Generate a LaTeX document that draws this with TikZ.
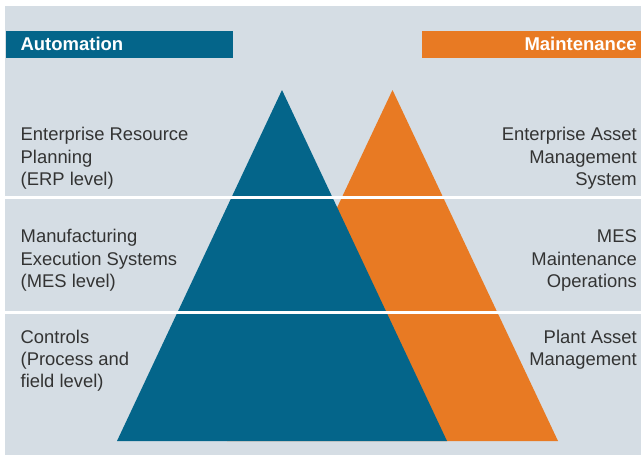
\documentclass[tikz,border=0pt]{standalone}
\usepackage{fontspec}
\setmainfont{Liberation Sans}
\definecolor{bg}{HTML}{D5DDE4}
\definecolor{autoblue}{HTML}{04658A}
\definecolor{maintorange}{HTML}{E87A23}
\definecolor{txt}{HTML}{333333}
\begin{document}
\begin{tikzpicture}[x=1pt,y=-1pt,
  lbl/.style={inner sep=0pt,text=txt,font=\fontsize{18.4}{22}\selectfont},
  lleft/.style={lbl,anchor=base west},
  lright/.style={lbl,anchor=base east},
  bartext/.style={inner sep=0pt,text=white,font=\fontsize{18.5}{22}\selectfont\bfseries},
  sep/.style={draw=white,line width=2.8pt}]
\useasboundingbox (0,0) rectangle (641,455);
\fill[white] (0,0) rectangle (641,455);
\fill[bg] (5,6) rectangle (641,455);
% header bars
\fill[autoblue] (6,31) rectangle (233,58);
\fill[maintorange] (422,31) rectangle (641,58);
\node[bartext,anchor=base west] (auto) at (20.3,50.7) {Automation};
\node[bartext,anchor=base east] (maint) at (636.8,50.7) {Maintenance};
% triangles
\fill[maintorange] (227,441) -- (392.5,90) -- (558,441) -- cycle;
\fill[autoblue] (117,441) -- (282,90) -- (447,441) -- cycle;
% separators
\coordinate (s1a) at (5,197.3); \coordinate (s1b) at (641,197.3);
\coordinate (s2a) at (5,312.7); \coordinate (s2b) at (641,312.7);
\draw[sep] (s1a) -- (s1b);
\draw[sep] (s2a) -- (s2b);
% left labels
\node[lleft] (l11) at (20.5,140.4) {Enterprise Resource};
\node[lleft] (l12) at (20.5,163.0) {Planning};
\node[lleft] (l13) at (20.5,185.6) {(ERP level)};
\node[lleft] (l21) at (20.5,242.6) {Manufacturing};
\node[lleft] (l22) at (20.5,265.0) {Execution Systems};
\node[lleft] (l23) at (20.5,287.4) {(MES level)};
\node[lleft] (l31) at (20.5,343.4) {Controls};
\node[lleft] (l32) at (20.5,365.4) {(Process and};
\node[lleft] (l33) at (20.5,387.4) {field level)};
% right labels
\node[lright] (r11) at (637,140.4) {Enterprise Asset};
\node[lright] (r12) at (637,163.0) {Management};
\node[lright] (r13) at (637,185.6) {System};
\node[lright] (r21) at (637,242.6) {MES};
\node[lright] (r22) at (637,265.0) {Maintenance};
\node[lright] (r23) at (637,287.4) {Operations};
\node[lright] (r31) at (637,343.4) {Plant Asset};
\node[lright] (r32) at (637,365.4) {Management};
\end{tikzpicture}
\end{document}
